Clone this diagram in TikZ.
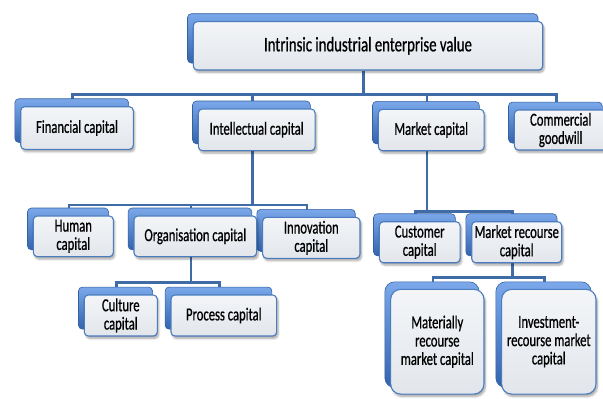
\documentclass[tikz,border=0pt]{standalone}
\usepackage{fontspec}
\setmainfont{Carlito}[FakeStretch=0.69, FakeBold=0.7]
\newfontfamily\headfont{Carlito}[FakeStretch=0.71, FakeBold=0.7]
\usetikzlibrary{shadows.blur}
\pgfdeclarelayer{links}
\pgfdeclarelayer{tabs}
\pgfsetlayers{links,tabs,main}
\definecolor{linkblue}{HTML}{3F6CA6}
\definecolor{cardedge}{HTML}{4A7CBE}
\definecolor{cardtop}{HTML}{F3F5F8}
\definecolor{cardbot}{HTML}{E2E6EB}
\definecolor{tabtop}{HTML}{7AA8EA}
\definecolor{tabbot}{HTML}{3463AE}
\definecolor{tabedge}{HTML}{33609F}
\begin{document}
\begin{tikzpicture}[x=1pt,y=-1pt,
  card/.style={draw=cardedge, line width=1.1pt, rounded corners=4pt,
    top color=cardtop, bottom color=cardbot, inner sep=0pt, align=center,
    font=\fontsize{18.3}{18.3}\selectfont,
    blur shadow={shadow xshift=1.5pt, shadow yshift=-2.5pt,
      shadow opacity=35, shadow blur steps=6}},
  tallcard/.style={card, rounded corners=10pt},
  tab/.style={draw=tabedge, line width=0.6pt, rounded corners=4pt,
    top color=tabtop, bottom color=tabbot},
  talltab/.style={tab, rounded corners=10pt},
  link/.style={draw=linkblue, line width=2.8pt}]
\useasboundingbox (0,0) rectangle (603,399);

% front cards
\node[card, minimum width=349.4pt, minimum height=48.3pt,
  font=\headfont\fontsize{20.8}{21}\selectfont] (title) at (368,45.8)
  {Intrinsic industrial enterprise value};
\node[card, minimum width=112.6pt, minimum height=42.6pt] (fin) at (77,128) {Financial capital};
\node[card, minimum width=116.7pt, minimum height=41.7pt] (int) at (256.7,129.8) {Intellectual capital};
\node[card, minimum width=105.7pt, minimum height=41.4pt] (mkt) at (431.2,130) {Market capital};
\node[card, minimum width=92.7pt, minimum height=40pt] (com) at (560.7,130) {Commercial\\goodwill};
\node[card, minimum width=80pt, minimum height=40.7pt] (hum) at (73.3,236.3) {Human\\capital};
\node[card, minimum width=122.7pt, minimum height=40.7pt] (org) at (195.3,236.3) {Organisation capital};
\node[card, minimum width=97.3pt, minimum height=41pt] (inn) at (311.3,237.8) {Innovation\\capital};
\node[card, minimum width=73pt, minimum height=41pt] (cul) at (120.8,315.5) {Culture\\capital};
\node[card, minimum width=105.7pt, minimum height=41pt] (pro) at (223.8,315.5) {Process capital};
\node[card, minimum width=80.7pt, minimum height=41pt] (cus) at (419.7,242.2) {Customer\\capital};
\node[card, minimum width=90pt, minimum height=41pt] (mrc) at (516.7,242.2) {Market recourse\\capital};
\node[tallcard, minimum width=93.3pt, minimum height=104.7pt] (mat) at (437.3,341.7) {Materially\\recourse\\market capital};
\node[tallcard, minimum width=94.3pt, minimum height=104.7pt] (inv) at (548.8,341.7) {Investment-\\recourse market\\capital};

% blue tabs behind the cards
\begin{pgfonlayer}{tabs}
  \foreach \n in {title,fin,int,mkt,com,hum,org,inn,cul,pro,cus,mrc}
    \path[tab] ([shift={(-5.3,-7.4)}]\n.north west) rectangle ([shift={(-5.3,-7.4)}]\n.south east);
  \foreach \n in {mat,inv}
    \path[talltab] ([shift={(-5.3,-7.0)}]\n.north west) rectangle ([shift={(-5.3,-7.0)}]\n.south east);
\end{pgfonlayer}

% attachment points of the connectors
\foreach \n in {title,fin,int,mkt,com,hum,org,inn,cul,pro,cus,mrc,mat,inv} {
  \coordinate (\n-t) at ([xshift=-4.3pt]\n.north);
  \coordinate (\n-b) at ([xshift=-4.3pt]\n.south);
}
% bus levels
\coordinate (bus1) at (0,94.5);
\coordinate (bus2) at (0,205);
\coordinate (bus3) at (0,282.7);
\coordinate (bus4) at (0,211.7);
\coordinate (bus5) at (0,277.3);

\begin{pgfonlayer}{links}
  % level 1
  \draw[link] (fin-t) |- (com-t |- bus1) -- (com-t);
  \draw[link] (title-b) -- (title-b |- bus1);
  \draw[link] (int-t) -- (int-t |- bus1);
  \draw[link] (mkt-t) -- (mkt-t |- bus1);
  % intellectual capital
  \draw[link] (hum-t) |- (inn-t |- bus2) -- (inn-t);
  \draw[link] (int-b) -- (int-b |- bus2);
  \draw[link] (org-t) -- (org-t |- bus2);
  % organisation capital
  \draw[link] (cul-t) |- (pro-t |- bus3) -- (pro-t);
  \draw[link] (org-b) -- (org-b |- bus3);
  % market capital
  \draw[link] (cus-t) |- (mrc-t |- bus4) -- (mrc-t);
  \draw[link] (mkt-b) -- (mkt-b |- bus4);
  % market recourse capital
  \draw[link] (mat-t) |- (inv-t |- bus5) -- (inv-t);
  \draw[link] (mrc-b) -- (mrc-b |- bus5);
\end{pgfonlayer}
\end{tikzpicture}
\end{document}
